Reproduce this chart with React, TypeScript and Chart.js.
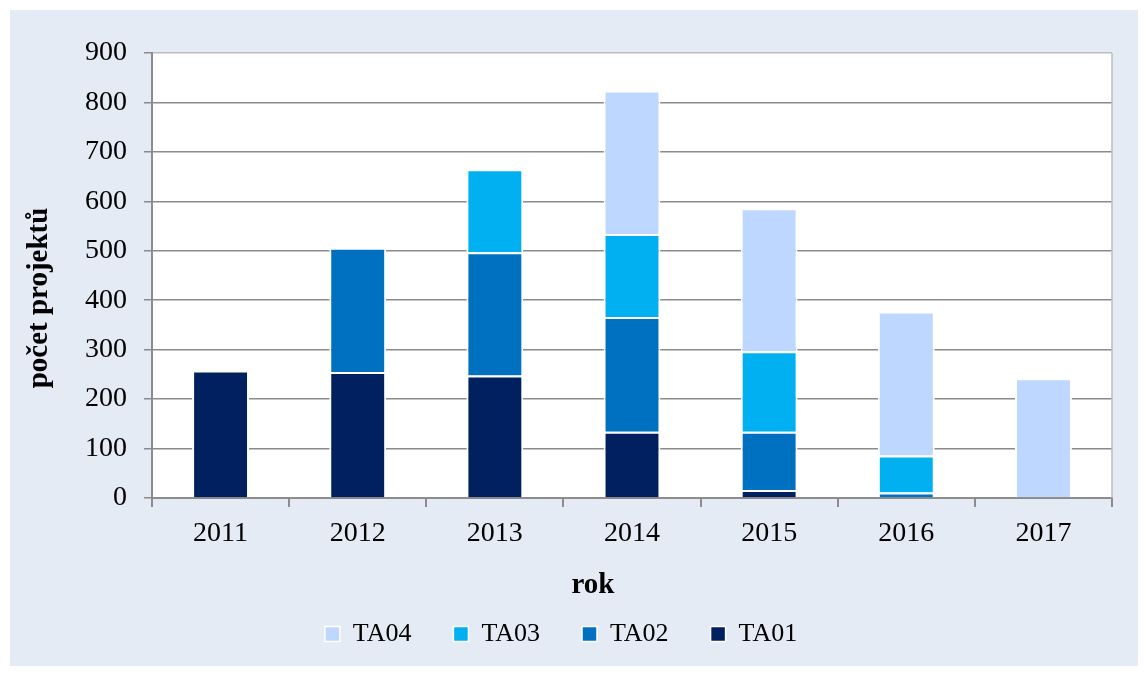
import React, { useEffect, useRef } from "react";
import { Chart, registerables } from "chart.js";

Chart.register(...registerables);

const years = ["2011", "2012", "2013", "2014", "2015", "2016", "2017"];
const ta01 = [258, 255, 248, 134, 16, null, null];
const ta02 = [null, 251, 249, 232, 118, 11, null];
const ta03 = [null, null, 168, 168, 163, 75, null];
const ta04 = [null, null, null, 290, 289, 291, 242];
const yTicks = [0, 100, 200, 300, 400, 500, 600, 700, 800, 900];
const xTitle = "rok";
const yTitle = "počet projektů";

const FONT = "'Liberation Serif', 'Times New Roman', serif";

const plotBg = {
  id: "plotBg",
  beforeDraw(chart: any) {
    const { ctx, chartArea } = chart;
    ctx.save();
    ctx.fillStyle = "#ffffff";
    ctx.fillRect(chartArea.left, chartArea.top, chartArea.right - chartArea.left, chartArea.bottom - chartArea.top);
    ctx.restore();
  },
  afterDatasetsDraw(chart: any) {
    const { ctx, chartArea } = chart;
    ctx.save();
    ctx.strokeStyle = "#bdbdbd";
    ctx.lineWidth = 1.5;
    ctx.beginPath();
    ctx.moveTo(chartArea.right, chartArea.top);
    ctx.lineTo(chartArea.right, chartArea.bottom);
    ctx.stroke();
    ctx.restore();
  },
  afterDraw(chart: any) {
    const { ctx } = chart;
    ctx.save();
    ctx.fillStyle = "#000000";
    ctx.font = "bold 29px " + FONT;
    ctx.textAlign = "center";
    ctx.textBaseline = "middle";
    ctx.fillText(xTitle, 583, 576);
    ctx.translate(30, 288);
    ctx.rotate(-Math.PI / 2);
    ctx.fillText(yTitle, 0, 0);
    ctx.restore();
  },
};

export default function App() {
  const ref = useRef<HTMLCanvasElement>(null);

  useEffect(() => {
    if (!ref.current) return;
    const border = { top: 2, left: 2, right: 2, bottom: 0 };
    const mk = (label: string, data: (number | null)[], color: string) => ({
      label,
      data,
      backgroundColor: color,
      borderColor: "#ffffff",
      borderWidth: border,
      borderSkipped: false,
      barPercentage: 0.415,
      categoryPercentage: 1,
    });
    const chart = new Chart(ref.current, {
      type: "bar",
      data: {
        labels: years,
        datasets: [
          mk("TA01", ta01, "#00205F"),
          mk("TA02", ta02, "#0070C0"),
          mk("TA03", ta03, "#00B0F0"),
          mk("TA04", ta04, "#BDD7FF"),
        ],
      },
      options: {
        responsive: false,
        maintainAspectRatio: false,
        animation: false,
        layout: { padding: { left: 0, right: 26, top: 43, bottom: 9 } },
        plugins: {
          tooltip: { enabled: false },
          legend: {
            position: "bottom",
            reverse: true,
            labels: {
              boxWidth: 15,
              boxHeight: 15,
              padding: 42,
              color: "#000000",
              font: { family: FONT, size: 26 },
            },
          },
        },
        scales: {
          x: {
            stacked: true,
            afterFit: (s: any) => {
              s.height = 81;
            },
            grid: {
              offset: true,
              drawOnChartArea: false,
              drawTicks: true,
              tickLength: 9,
              color: "#8c8c8c",
              lineWidth: 2,
            },
            border: { display: true, color: "#8c8c8c", width: 2 },
            ticks: {
              color: "#000000",
              padding: 10,
              font: { family: FONT, size: 28 },
            },
            title: { display: false, text: xTitle },
          },
          y: {
            stacked: true,
            min: 0,
            max: 900,
            afterFit: (s: any) => {
              s.width = 142;
            },
            afterBuildTicks: (s: any) => {
              s.ticks = yTicks.map((v) => ({ value: v }));
            },
            grid: {
              drawTicks: true,
              tickLength: 8,
              lineWidth: 1.5,
              color: (c: any) => (c.tick && c.tick.value === 900 ? "#bdbdbd" : "#8a8a8a"),
              tickColor: "#8a8a8a",
            },
            border: { display: true, color: "#8c8c8c", width: 2 },
            ticks: {
              color: "#000000",
              padding: 17,
              font: { family: FONT, size: 28 },
            },
            title: { display: false, text: yTitle },
          },
        },
      },
      plugins: [plotBg],
    } as any);
    return () => chart.destroy();
  }, []);

  return (
    <div style={{ position: "absolute", left: 0, top: 0, width: 1148, height: 676, background: "#ffffff" }}>
      <div style={{ position: "absolute", left: 10, top: 10, width: 1128, height: 656, background: "#E4EBF5" }}>
        <canvas ref={ref} width={1128} height={656} style={{ display: "block" }} />
      </div>
    </div>
  );
}
